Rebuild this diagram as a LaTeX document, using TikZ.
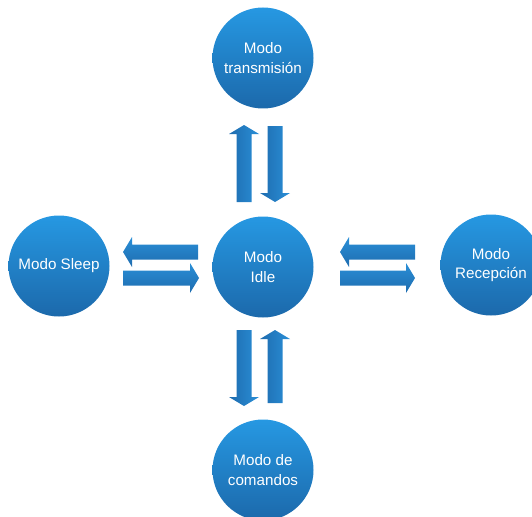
\documentclass[tikz,border=0pt]{standalone}
\usepackage{fontspec}
\setmainfont{Liberation Sans}
\usetikzlibrary{calc}
\definecolor{cirtop}{HTML}{2698E2}
\definecolor{cirbot}{HTML}{1C69AB}
\definecolor{arlight}{HTML}{2A8FD7}
\definecolor{ardark}{HTML}{1E6CAF}
\tikzset{
  modenode/.style={circle, minimum size=101pt, inner sep=0pt, top color=cirtop, bottom color=cirbot,
    text=white, align=center, font=\fontsize{15.2}{19.5}\selectfont},
  blockarrow/.style={to path={
    let \p1=($(\tikztotarget)-(\tikztostart)$), \n1={atan2(\y1,\x1)}, \n2={veclen(\x1,\y1)-9} in
    ([shift={(\tikztostart)},rotate=\n1]0pt,7.5pt)
    -- ([shift={(\tikztostart)},rotate=\n1]\n2,7.5pt)
    -- ([shift={(\tikztostart)},rotate=\n1]\n2,15pt)
    -- (\tikztotarget)
    -- ([shift={(\tikztostart)},rotate=\n1]\n2,-15pt)
    -- ([shift={(\tikztostart)},rotate=\n1]\n2,-7.5pt)
    -- ([shift={(\tikztostart)},rotate=\n1]0pt,-7.5pt) -- cycle}},
  harrow/.style={blockarrow, top color=arlight, bottom color=ardark},
  varrow/.style={blockarrow, left color=ardark, right color=arlight}
}
\begin{document}
\begin{tikzpicture}[x=1pt,y=-1pt]
\useasboundingbox (0,0) rectangle (532,516);
\node[modenode] (trans) at (263,58) {Modo\\transmisión};
\node[modenode] (idle) at (263,267) {Modo\\Idle};
\node[modenode] (sleep) at (59,266) {Modo Sleep};
\node[modenode] (recep) at (491,265) {Modo\\Recepción};
\node[modenode] (cmd) at (263,470) {Modo de\\comandos};
% vertical top pair
\coordinate (tu0) at (244,202); \coordinate (tu1) at (244,125);
\coordinate (td0) at (275,126); \coordinate (td1) at (275,202);
\path[varrow] (tu0) to (tu1);
\path[varrow] (td0) to (td1);
% vertical bottom pair
\coordinate (bd0) at (244,330); \coordinate (bd1) at (244,406);
\coordinate (bu0) at (275,403); \coordinate (bu1) at (275,330);
\path[varrow] (bd0) to (bd1);
\path[varrow] (bu0) to (bu1);
% left pair
\coordinate (ll0) at (198,252); \coordinate (ll1) at (123,252);
\coordinate (lr0) at (123,278); \coordinate (lr1) at (199,278);
\path[harrow] (ll0) to (ll1);
\path[harrow] (lr0) to (lr1);
% right pair
\coordinate (rl0) at (415,252); \coordinate (rl1) at (340,252);
\coordinate (rr0) at (340,278); \coordinate (rr1) at (415,278);
\path[harrow] (rl0) to (rl1);
\path[harrow] (rr0) to (rr1);
\end{tikzpicture}
\end{document}
